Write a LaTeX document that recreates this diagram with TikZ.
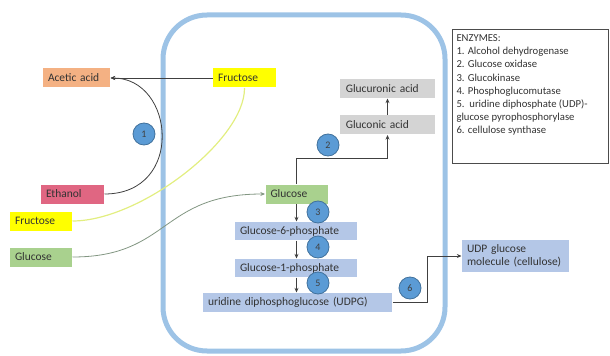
\documentclass[tikz,border=0pt]{standalone}
\usepackage{fontspec}
\setmainfont{Carlito}
\usetikzlibrary{arrows.meta}

\definecolor{cellblue}{RGB}{157,195,230}
\definecolor{acetcol}{RGB}{244,177,131}
\definecolor{fructcol}{RGB}{255,255,0}
\definecolor{ethcol}{RGB}{224,102,130}
\definecolor{glucol}{RGB}{169,209,142}
\definecolor{phoscol}{RGB}{180,199,231}
\definecolor{acidcol}{RGB}{212,212,212}
\definecolor{numcol}{RGB}{91,155,213}
\definecolor{numline}{RGB}{65,113,156}
\definecolor{paleyel}{RGB}{226,238,128}
\definecolor{greyline}{RGB}{130,150,130}

\tikzset{every picture/.style={line width=0.75pt}}
\tikzset{
  lbl/.style={text width=#1, align=left, inner xsep=3.75pt, inner ysep=0pt,
    minimum height=14.25pt, text=black!80, font=\fontsize{8.6}{10}\selectfont},
  num/.style={circle, fill=numcol, draw=numline, line width=0.6pt, minimum size=16.5pt,
    inner sep=0pt, text=black!75, font=\fontsize{7.5}{9}\selectfont},
  flow/.style={draw=black!75, line width=0.6pt, -{Stealth[length=3.5pt,width=3pt]}}
}

\begin{document}
\begin{tikzpicture}[x=0.75pt,y=0.75pt,yscale=-1,xscale=1]
\useasboundingbox (0,0) rectangle (610,356);

% cell outline
\draw [cellblue, line width=3.75pt, rounded corners=33pt] (163,15) rectangle (445,351);

% outside the cell
\node (acetic) [lbl=42.75pt, fill=acetcol] at (76.5,78) {Acetic acid};
\node (ethanol) [lbl=39.75pt, fill=ethcol] at (72.5,194) {Ethanol};
\node (fructL) [lbl=39pt, fill=fructcol] at (41,221) {Fructose};
\node (glucL) [lbl=39pt, fill=glucol] at (41,257) {Glucose};

% inside the cell
\node (fructT) [lbl=39.75pt, fill=fructcol] at (244.5,78) {Fructose};
\node (gluc) [lbl=39pt, fill=glucol] at (296.5,194) {Glucose};
\node (g6p) [lbl=84pt, fill=phoscol, minimum height=13.5pt] at (296,231) {Glucose-6-phosphate};
\node (g1p) [lbl=84pt, fill=phoscol, minimum height=13.5pt] at (296,268) {Glucose-1-phosphate};
\node (udpg) [lbl=134.25pt, fill=phoscol] at (297.5,302.5) {uridine diphosphoglucose (UDPG)};
\node (gluconic) [lbl=62.5pt, fill=acidcol, inner xsep=4.5pt] at (387.5,125) {Gluconic acid};
\node (glucuronic) [lbl=62.5pt, fill=acidcol, inner xsep=4.5pt] at (387.5,88.5) {Glucuronic acid};

% product
\node (udpglc) [lbl=72.75pt, fill=phoscol, minimum height=24pt] at (515.5,256) {UDP glucose\\molecule (cellulose)};

% enzyme list
\node (enzbox) [draw=black!70, line width=0.6pt, minimum width=117pt, minimum height=100.5pt, anchor=north west, inner sep=0pt] at (452,29) {};
\node (enz) [anchor=north west, align=left, inner sep=0pt, text=black!80, font=\fontsize{8}{9.9}\selectfont] at (456,34) {ENZYMES:\\1. Alcohol dehydrogenase\\2. Glucose oxidase\\3. Glucokinase\\4. Phosphoglucomutase\\5.\ \ uridine diphosphate (UDP)-\\glucose pyrophosphorylase\\6. cellulose synthase};

% connectors
\draw [flow] (fructT.west) -- (acetic.east);
\draw [flow] (ethanol.east) .. controls (185,194) and (175,78) .. (acetic.east);
\draw [paleyel, line width=0.9pt] (fructL.east) .. controls (140,221) and (245,140) .. (fructT.south);
\draw [flow, draw=greyline] (glucL.east) .. controls (170,257) and (160,194) .. (gluc.west);
\draw [flow] (gluc.north) -- ++(0,-26) -| (gluconic.south);
\draw [flow] (gluconic.north) -- (glucuronic.south);
\draw [flow] (gluc.south) -- (gluc.south |- g6p.north);
\draw [flow] (gluc.south |- g6p.south) -- (gluc.south |- g1p.north);
\draw [flow] (gluc.south |- g1p.south) -- (gluc.south |- udpg.north);
\draw [flow] (udpg.east) -- ++(35,0) |- (udpglc.west);

% enzyme numbers
\node (n1) [num] at (144,134) {1};
\node (n2) [num] at (328,145) {2};
\node (n3) [num] at (318,212) {3};
\node (n4) [num] at (318,247) {4};
\node (n5) [num] at (318,283) {5};
\node (n6) [num] at (410,288) {6};

\end{tikzpicture}
\end{document}
